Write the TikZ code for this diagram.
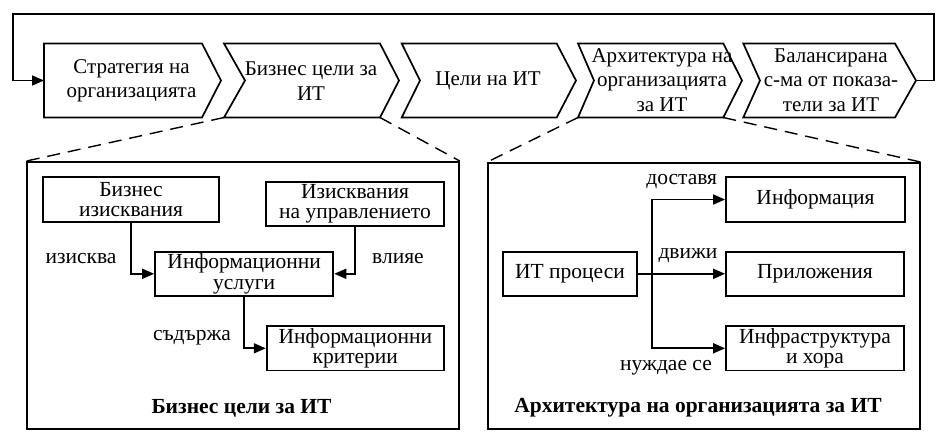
\documentclass[tikz,border=0pt]{standalone}
\usepackage{fontspec}
\setmainfont{Liberation Serif}
\usetikzlibrary{arrows.meta}
\tikzset{
  chevtext/.style={align=center, inner sep=0pt, font={\fontsize{21}{24.5}\selectfont}},
  box/.style={draw, line width=1.8pt, inner sep=0pt, align=center, font={\fontsize{21.5}{20.5}\selectfont}},
  lbl/.style={inner sep=0pt, font={\fontsize{21.5}{20.5}\selectfont}},
  ttl/.style={inner sep=0pt, font={\fontsize{21.5}{20.5}\selectfont\bfseries}},
  panel/.style={draw, line width=1.8pt, inner sep=0pt},
  arr/.style={line width=1.7pt, -{Triangle[length=12pt,width=10pt]}},
  zoomline/.style={line width=1.4pt, dash pattern=on 13pt off 8pt},
  chev/.style={line width=1.7pt, line join=miter}
}
\begin{document}
\begin{tikzpicture}[x=1pt,y=-1pt]
\useasboundingbox (0,0) rectangle (942,444);

% chevrons
\draw[chev] (44,43.5) -- (202,43.5) -- (221,80.5) -- (202,117.5) -- (44,117.5) -- cycle;
\draw[chev] (224,43.5) -- (380,43.5) -- (399,80.5) -- (380,117.5) -- (224,117.5) -- (245,80.5) -- cycle;
\draw[chev] (401.7,43.5) -- (556.7,43.5) -- (576,80.5) -- (556.7,117.5) -- (401.7,117.5) -- (420,80.5) -- cycle;
\draw[chev] (578,43.5) -- (723.3,43.5) -- (742,80.5) -- (723.3,117.5) -- (578,117.5) -- (594,80.5) -- cycle;
\draw[chev] (743.3,43.5) -- (895,43.5) -- (916,80.5) -- (895,117.5) -- (743.3,117.5) -- (760,80.5) -- cycle;

\coordinate (c1left) at (44,80.5);
\coordinate (c5tip) at (916,80.5);
\coordinate (c2bl) at (224,117.5);
\coordinate (c2br) at (380,117.5);
\coordinate (c4bl) at (578,117.5);
\coordinate (c4br) at (723.3,117.5);
\coordinate (lr) at (934,14);
\coordinate (ll) at (12.7,14);

\node[chevtext] (t1) at (131.5,81) {Стратегия на\\организацията};
\node[chevtext] (t2) at (311,81) {Бизнес цели за\\ИТ};
\node[chevtext] (t3) at (488,81) {Цели на ИТ};
\node[chevtext] (t4) at (662,80) {Архитектура на\\организацията\\за ИТ};
\node[chevtext] (t5) at (831,80) {Балансирана\\с-ма от показа-\\тели за ИТ};

% feedback loop
\draw[arr] (c5tip) -| (lr) -- (ll) |- (c1left);

% panels
\node[panel, minimum width=432pt, minimum height=267pt] (lp) at (243,295.5) {};
\node[panel, minimum width=432pt, minimum height=266pt] (rp) at (704,296) {};

\draw[zoomline] (c2bl) -- (lp.north west);
\draw[zoomline] (c2br) -- (lp.north east);
\draw[zoomline] (c4bl) -- (rp.north west);
\draw[zoomline] (c4br) -- (rp.north east);

% left panel
\node[box, minimum width=176.6pt, minimum height=44.4pt] (bi) at (131,199.5) {Бизнес\\изисквания};
\node[box, minimum width=178pt, minimum height=44.4pt] (iu) at (355,203.8) {Изисквания\\на управлението};
\node[box, minimum width=178.3pt, minimum height=44.4pt] (is) at (244.2,273.8) {Информационни\\услуги};
\node[box, minimum width=177.3pt, minimum height=44.4pt] (ik) at (355.3,348.3) {Информационни\\критерии};

\draw[arr] (bi.south) |- (is.west);
\draw[arr] (iu.south) |- (is.east);
\draw[arr] (is.south) |- (ik.west);

\node[lbl] (l1) at (81,259) {изисква};
\node[lbl] (l2) at (398,259) {влияе};
\node[lbl] (l3) at (192,338) {съдържа};
\node[ttl] (lt) at (241.5,408) {Бизнес цели за ИТ};

% right panel
\node[box, minimum width=179pt, minimum height=44.4pt] (inf) at (815.5,199.5) {Информация};
\node[box, minimum width=178pt, minimum height=44.4pt] (pril) at (815,273.8) {Приложения};
\node[box, minimum width=178pt, minimum height=44.4pt] (infra) at (815,348.3) {Инфраструктура\\и хора};
\node[box, minimum width=134.6pt, minimum height=44.4pt] (itp) at (570,273.8) {ИТ процеси};

\coordinate (br) at (652,273.8);
\draw[arr] (itp.east) -- (pril.west);
\draw[arr] (br) |- (inf.west);
\draw[arr] (br) |- (infra.west);

\node[lbl] (r1) at (681.7,181.7) {доставя};
\node[lbl] (r2) at (688,256) {движи};
\node[lbl] (r3) at (666,368) {нуждае се};
\node[ttl] (rt) at (698,408) {Архитектура на организацията за ИТ};
\end{tikzpicture}
\end{document}
